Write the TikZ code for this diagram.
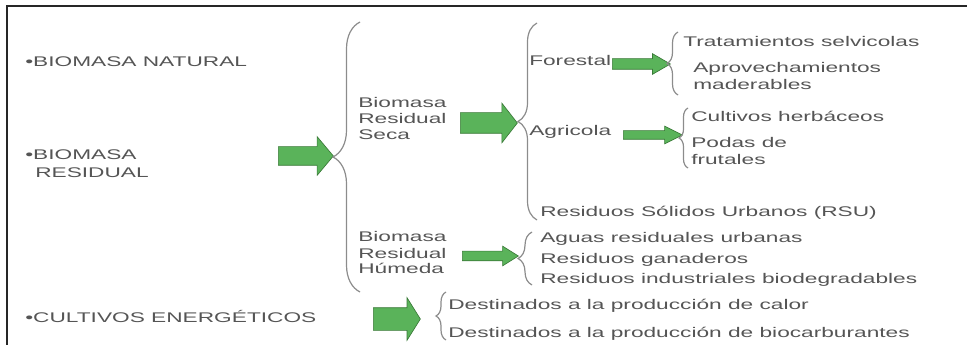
\documentclass[tikz,border=0pt]{standalone}
\usepackage{fontspec}
\newfontfamily\widesans{Liberation Sans}[FakeStretch=1.62]
\usepackage{xcolor}
\usetikzlibrary{shapes.arrows,decorations.pathreplacing}

\definecolor{txtgray}{HTML}{555555}
\definecolor{bracegray}{HTML}{8C8C8C}
\definecolor{arrowgreen}{HTML}{5AB35A}
\definecolor{arrowedge}{HTML}{3A7A38}

\begin{document}
\begin{tikzpicture}[x=0.75pt,y=-0.75pt,
    item/.style={anchor=base west, inner sep=0pt, text=txtgray,
        font=\widesans\fontsize{10.5}{12.5}\selectfont},
    garrow/.style={single arrow, draw=arrowedge, fill=arrowgreen, line width=0.5pt,
        inner sep=0pt, minimum width=0pt, anchor=west},
    curly/.style={decorate, decoration={brace, amplitude=#1*0.75pt},
        draw=bracegray, line width=0.9pt}]
        \useasboundingbox (0,0) rectangle (967,345);
        \draw[line width=1.6pt, black!85] (967,6) -- (7,6) -- (7,345);
        % texts
        \foreach \n/\x/\y/\t in {
            natural/25/67/{•BIOMASA NATURAL},
            residualA/25/160/{•BIOMASA},
            residualB/35/178/{RESIDUAL},
            cultivos/25/322/{•CULTIVOS ENERGÉTICOS},
            secaA/358/108/{Biomasa},
            secaB/358/124/{Residual},
            secaC/358/140/{Seca},
            humedaA/358/242/{Biomasa},
            humedaB/358/258/{Residual},
            humedaC/358/273/{Húmeda},
            forestal/529/66/{Forestal},
            agricola/529/136/{Agricola},
            tratam/683/47/{Tratamientos selvicolas},
            aprovA/693/73/{Aprovechamientos},
            aprovB/693/90/{maderables},
            herbac/691/122/{Cultivos herbáceos},
            podasA/691/148/{Podas de},
            podasB/691/165/{frutales},
            rsu/540/217/{Residuos Sólidos Urbanos (RSU)},
            aguas/540/243/{Aguas residuales urbanas},
            ganad/540/263/{Residuos ganaderos},
            indust/540/283/{Residuos industriales biodegradables},
            calor/448/310/{Destinados a la producción de calor},
            biocarb/448/337/{Destinados a la producción de biocarburantes}
        } {
            \node[item] (\n) at (\x,\y) {\t};
        }
        % green arrows
        \foreach \n/\x/\y/\len/\hd/\sh/\ang in {
            arrRes/278/156/55/38/18/100,
            arrSeca/460/123/57/39/20/104,
            arrFor/612/64/58/20/10/60,
            arrAgr/623/135/59/17/8/53,
            arrHum/462/256/56/19/9/64,
            arrCul/373/319/47/42/22/116
        } {
            \node[garrow, minimum height=\len*0.75pt, inner ysep=\sh*0.375pt,
                single arrow head extend={(\hd-\sh)*0.375pt},
                single arrow tip angle=\ang] (\n) at (\x,\y) {};
        }
        % braces
        \foreach \n/\x/\top/\bot/\amp in {
            bRes/360/22/292/27,
            bSeca/537/23/220/19,
            bFor/678/32/95/11,
            bAgr/688/108/168/9,
            bHum/532/232/285/14,
            bCul/446/292/340/10
        } {
            \coordinate (\n-t) at (\x,\top);
            \coordinate (\n-b) at (\x,\bot);
            \draw[curly=\amp] (\n-b) -- (\n-t);
        }
    \end{tikzpicture}
\end{document}
